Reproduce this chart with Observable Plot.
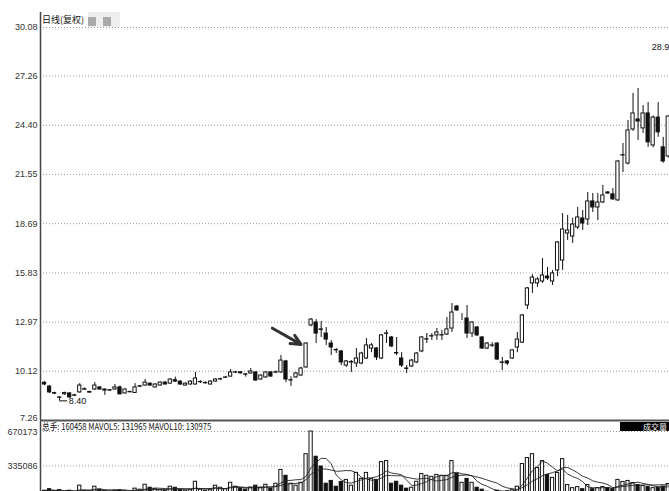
<!DOCTYPE html>
<html><head><meta charset="utf-8">
<script src="https://cdn.jsdelivr.net/npm/d3@7"></script>
<script src="https://cdn.jsdelivr.net/npm/@observablehq/plot@0.6"></script>
<style>
body{margin:0;background:#fff;width:669px;height:491px;overflow:hidden;position:relative;font-family:"Liberation Sans","Noto Sans CJK SC",sans-serif;}
#price,#vol{position:absolute;left:0;}
#price{top:0}
#vol{top:421px}
#title{position:absolute;left:42px;top:14px;font-size:9px;color:#111;font-family:"Noto Sans CJK SC","Liberation Sans",sans-serif;line-height:11px;}
#mosaic{position:absolute;left:88px;top:12px;width:32px;height:15px;background:#eee;}
#mosaic i{position:absolute;top:5px;width:8px;height:9px;background:#aaa;}
#volhead{position:absolute;left:42px;top:422px;font-size:9px;color:#111;line-height:10px;white-space:nowrap;transform:scaleX(0.85);transform-origin:left top;font-family:"Noto Sans CJK SC","Liberation Sans",sans-serif;}
#voltag{position:absolute;left:620px;top:422px;width:49px;height:9px;background:#000;color:#fff;font-size:8px;line-height:9px;text-align:right;padding-right:2px;box-sizing:border-box;font-family:"Noto Sans CJK SC",sans-serif;}
svg{overflow:visible}
</style></head><body>
<div id="price"></div><div id="vol"></div>
<div id="title">日线(复权)</div>
<div id="mosaic"><i style="left:0px"></i><i style="left:15px"></i></div>
<div id="volhead">总手: 160458 MAVOL5: 131965 MAVOL10: 130975</div>
<div id="voltag">成交量</div>
<script>
const opens = [9.45,9.23,8.85,8.60,8.78,8.83,8.72,8.89,9.05,8.92,
9.06,9.18,9.06,9.02,9.06,9.18,8.83,8.90,8.86,9.22,
9.29,9.40,9.18,9.29,9.46,9.40,9.60,9.52,9.29,9.35,
9.35,9.48,9.44,9.35,9.52,9.64,9.74,9.81,10.04,10.06,
9.94,9.99,10.05,9.64,9.76,10.05,10.04,10.05,10.69,9.58,
9.76,9.87,10.34,12.78,12.95,12.55,12.31,11.73,11.35,11.27,
10.45,10.63,10.57,10.57,10.86,11.44,11.44,10.86,12.29,12.08,
11.18,10.86,10.28,10.40,10.63,11.27,11.96,12.14,12.20,12.20,
12.25,12.60,13.88,13.24,13.18,12.31,12.66,12.08,11.44,11.60,
11.73,10.63,10.69,10.86,11.50,11.78,13.94,15.22,15.22,15.33,
15.62,15.33,15.97,16.55,18.12,17.94,18.47,18.99,18.93,19.98,
19.63,19.92,20.50,20.39,20.04,22.65,22.18,24.16,24.74,24.22,
25.09,23.23,24.85,23.12,22.59];
const highs = [9.52,9.29,8.90,8.62,8.90,8.88,8.78,9.40,9.15,8.95,
9.46,9.22,9.08,9.06,9.35,9.26,9.10,8.96,9.40,9.30,
9.64,9.44,9.40,9.50,9.52,9.68,9.78,9.56,9.44,9.56,
10.05,9.56,9.50,9.56,9.68,9.72,9.82,10.22,10.12,10.10,
9.97,10.28,10.10,9.90,10.10,10.10,10.14,11.03,10.75,9.80,
10.05,10.35,11.78,13.18,13.12,13.01,12.66,11.90,11.44,11.33,
10.75,10.74,11.44,11.22,12.02,11.73,11.50,12.25,12.49,12.14,
12.08,11.20,10.45,10.80,11.20,12.14,12.31,12.31,12.60,12.49,
13.24,14.05,13.94,13.47,13.94,13.00,12.72,12.14,11.78,11.78,
11.78,10.92,10.74,11.38,12.37,13.41,14.99,15.73,15.56,16.67,
16.15,15.97,17.65,19.28,19.17,19.00,19.63,19.46,20.50,20.44,
20.44,20.91,20.56,20.73,22.36,23.35,24.68,26.25,26.54,25.55,
25.72,24.95,25.72,23.70,24.95];
const lows = [9.28,8.83,8.78,8.40,8.72,8.55,8.65,8.85,9.00,8.85,
9.00,9.02,8.72,8.94,9.02,8.75,8.80,8.86,8.83,9.18,
9.26,9.26,9.15,9.26,9.32,9.38,9.48,9.30,9.26,9.32,
9.32,9.42,9.38,9.32,9.50,9.60,9.70,9.78,9.98,9.96,
9.78,9.96,9.55,9.60,9.72,9.78,9.98,10.00,9.46,9.24,
9.72,9.84,10.30,12.70,11.73,12.08,11.62,11.03,11.15,10.45,
10.34,10.05,10.34,10.50,10.80,11.20,10.74,10.80,11.73,11.50,
11.03,10.34,9.99,10.34,10.57,11.20,11.73,11.91,11.91,11.91,
12.20,12.37,13.59,13.07,12.02,12.08,12.14,11.38,11.38,11.50,
10.74,10.16,10.45,10.80,11.20,11.73,13.70,14.64,14.99,15.22,
15.39,15.10,15.62,15.97,17.71,17.54,18.35,18.29,18.58,19.34,
18.87,19.86,20.39,20.04,19.98,21.66,22.10,24.05,23.52,23.93,
23.12,23.10,23.70,22.20,22.50];
const closes = [9.35,8.89,8.82,8.58,8.86,8.60,8.70,9.29,9.08,8.88,
9.29,9.06,9.00,9.00,9.18,8.78,9.06,8.92,9.18,9.25,
9.46,9.29,9.35,9.46,9.35,9.64,9.52,9.35,9.40,9.52,
9.70,9.50,9.42,9.52,9.64,9.66,9.76,10.05,10.06,10.00,
9.92,10.11,9.58,9.87,10.05,9.81,10.06,10.74,9.64,9.60,
9.99,10.28,11.73,13.12,12.31,12.52,11.96,11.50,11.33,10.63,
10.69,10.66,10.86,11.15,11.62,11.62,10.92,12.20,12.31,11.56,
11.15,10.45,10.26,10.74,11.15,12.08,11.98,12.16,12.37,12.22,
12.55,13.53,13.65,13.24,12.31,12.95,12.20,11.44,11.73,11.62,
10.80,10.61,10.57,11.33,11.96,13.36,14.93,15.56,15.45,15.68,
15.51,15.80,17.60,18.35,18.29,18.64,19.05,18.70,19.98,19.63,
19.92,20.33,20.44,20.10,22.30,22.67,24.10,25.09,24.62,25.09,
23.41,24.85,23.99,22.30,24.91];
const volumes = [95000,110000,90000,100000,85000,95000,80000,144000,95000,90000,
134000,105000,90000,85000,95000,100000,90000,85000,115000,105000,
153000,124000,110000,100000,95000,134000,124000,100000,95000,100000,
182000,105000,95000,100000,144000,124000,110000,172000,134000,115000,
105000,124000,144000,124000,153000,115000,163000,297000,240000,163000,
144000,172000,450000,670173,425000,330000,163000,190000,134000,180000,
200000,144000,268000,210000,268000,210000,200000,373000,383000,163000,
182000,144000,115000,124000,182000,258000,240000,230000,249000,240000,
240000,383000,258000,172000,210000,172000,124000,105000,85000,80000,
95000,85000,90000,100000,134000,354000,412000,450000,316000,383000,
249000,220000,268000,402000,150000,120000,130000,110000,150000,110000,
120000,130000,120000,110000,200000,180000,190000,170000,150000,140000,
130000,120000,125000,135000,160458];
const priceTicks = [7.26,10.12,12.97,15.83,18.69,21.55,24.40,27.26,30.08];
const volTicks = [335086,670173];
const arrowFrom = [45.3, 12.62];
const arrowTo = [51.0, 11.68];
const lowMark = {i: 3, price: 8.40, label: "8.40"};
const highMark = {i: 120.7, price: 28.92, label: "28.9"};

const candles = opens.map((o, i) => ({i, o, h: highs[i], l: lows[i], c: closes[i], v: volumes[i], up: closes[i] >= opens[i]}));
const font = "'Liberation Sans','Noto Sans CJK SC',sans-serif";
const xDomain = [-0.8, 124.25];
const ink = "#111";
const axisOpts = {tickSize: 0, tickPadding: 3, fontSize: 9, fill: "#333", label: null};

const price = Plot.plot({
  width: 669, height: 421, marginLeft: 40, marginRight: 0, marginTop: 12, marginBottom: 1,
  style: {fontFamily: font, fontSize: "9px", color: "#333", background: "transparent"},
  x: {domain: xDomain, axis: null, label: null},
  y: {domain: [7.26, 30.08], range: [420, 27], axis: null, label: null},
  marks: [
    Plot.gridY(priceTicks, {stroke: "#9a9a9a", strokeOpacity: 1, strokeDasharray: "1,2"}),
    Plot.axisY(priceTicks.slice(1), {...axisOpts, tickFormat: d => d.toFixed(2)}),
    Plot.axisY([priceTicks[0]], {...axisOpts, tickFormat: d => d.toFixed(2), dy: -2}),
    Plot.ruleX(candles, {x: "i", y1: "l", y2: "h", stroke: ink, strokeWidth: 1}),
    Plot.rect(candles, {x1: d => d.i - 0.5, x2: d => d.i + 0.5, y1: "o", y2: "c", insetLeft: 0.9, insetRight: 0.9,
      fill: d => d.up ? "white" : ink, stroke: ink, strokeWidth: 1}),
    Plot.ruleY([lowMark], {x1: d => d.i, x2: d => d.i + 1.6, y: "price", stroke: ink, strokeWidth: 1}),
    Plot.text([lowMark], {x: d => d.i + 1.6, y: "price", text: "label", textAnchor: "start", dx: 1, fontSize: 9, fill: ink}),
    Plot.text([highMark], {x: "i", y: "price", text: "label", textAnchor: "start", fontSize: 9, fill: ink}),
    Plot.arrow([{from: arrowFrom, to: arrowTo}], {x1: d => d.from[0], y1: d => d.from[1], x2: d => d.to[0], y2: d => d.to[1],
      stroke: "#333", strokeWidth: 3, headLength: 11, headAngle: 50}),
    Plot.ruleY([7.26], {stroke: "#555", strokeWidth: 2}),
    Plot.ruleX([xDomain[0]], {stroke: "#444", strokeWidth: 1.5})
  ]
});
document.getElementById("price").append(price);

const vol = Plot.plot({
  width: 669, height: 70, marginLeft: 40, marginRight: 0, marginTop: 0, marginBottom: 0,
  style: {fontFamily: font, fontSize: "9px", color: "#333", background: "transparent"},
  x: {domain: xDomain, axis: null, label: null},
  y: {domain: [0, 670173], range: [79, 10], axis: null, label: null},
  marks: [
    Plot.gridY(volTicks, {stroke: "#9a9a9a", strokeOpacity: 1, strokeDasharray: "1,2"}),
    Plot.axisY([volTicks[0]], {...axisOpts, tickFormat: d => String(d)}),
    Plot.axisY([volTicks[1]], {...axisOpts, tickFormat: d => String(d), dy: 1}),
    Plot.rect(candles, {x1: d => d.i - 0.5, x2: d => d.i + 0.5, y1: 0, y2: "v", insetLeft: 0.9, insetRight: 0.9,
      fill: d => d.up ? "white" : ink, stroke: ink, strokeWidth: 1}),
    Plot.lineY(candles, Plot.windowY({k: 5, anchor: "end"}, {x: "i", y: "v", stroke: "#222", strokeWidth: 0.9})),
    Plot.lineY(candles, Plot.windowY({k: 10, anchor: "end"}, {x: "i", y: "v", stroke: "#222", strokeWidth: 0.9})),
    Plot.ruleX([xDomain[0]], {stroke: "#444", strokeWidth: 1.5})
  ]
});
document.getElementById("vol").append(vol);
</script>
</body></html>
